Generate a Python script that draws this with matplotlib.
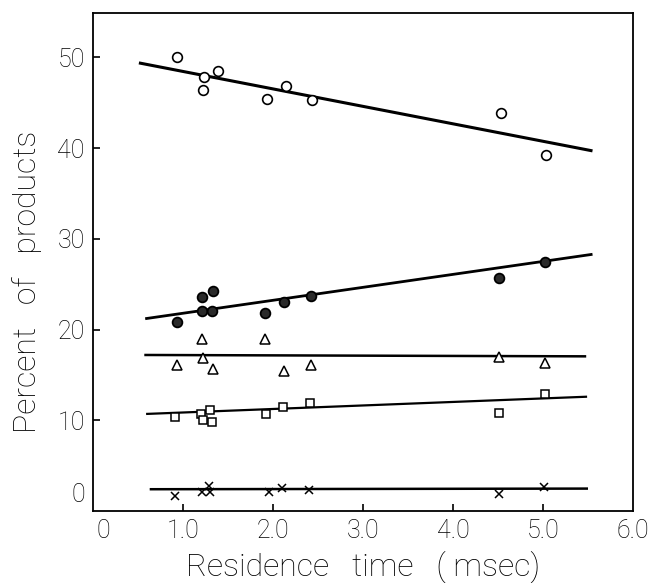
import matplotlib
matplotlib.use("Agg")
import matplotlib.pyplot as plt
import matplotlib.transforms as mtransforms

# Open circles
oc_x = [0.93, 1.23, 1.22, 1.39, 1.93, 2.14, 2.43, 4.53, 5.03]
oc_y = [50.1, 47.8, 46.4, 48.5, 45.4, 46.9, 45.3, 43.9, 39.3]
oc_line_x = [0.51, 5.55]
oc_line_y = [49.4, 39.7]

# Filled circles
fc_x = [0.93, 1.21, 1.21, 1.33, 1.32, 1.91, 2.12, 2.42, 4.51, 5.02]
fc_y = [20.8, 23.6, 22.1, 24.2, 22.1, 21.8, 23.0, 23.7, 25.7, 27.4]
fc_line_x = [0.58, 5.55]
fc_line_y = [21.2, 28.3]

# Triangles
tr_x = [0.93, 1.21, 1.22, 1.33, 1.91, 2.12, 2.42, 4.51, 5.02]
tr_y = [16.1, 19.0, 16.9, 15.6, 19.0, 15.4, 16.1, 17.0, 16.3]
tr_line_x = [0.57, 5.48]
tr_line_y = [17.2, 17.05]

# Squares
sq_x = [0.91, 1.20, 1.22, 1.30, 1.32, 1.92, 2.11, 2.41, 4.51, 5.02]
sq_y = [10.4, 10.7, 10.0, 11.1, 9.8, 10.7, 11.5, 11.95, 10.85, 12.9]
sq_line_x = [0.59, 5.49]
sq_line_y = [10.7, 12.6]

# Crosses
cr_x = [0.91, 1.21, 1.29, 1.30, 1.96, 2.10, 2.40, 4.51, 5.01]
cr_y = [1.7, 2.1, 2.8, 2.1, 2.07, 2.55, 2.35, 1.9, 2.6]
cr_line_x = [0.63, 5.50]
cr_line_y = [2.4, 2.47]

x_ticks = [0, 1, 2, 3, 4, 5, 6]
x_tick_labels = ["0", "1.0", "2.0", "3.0", "4.0", "5.0", "6.0"]
y_ticks = [0, 10, 20, 30, 40, 50]
y_tick_labels = ["0", "10", "20", "30", "40", "50"]

plt.rcParams['font.family'] = ['Roboto', 'DejaVu Sans']
plt.rcParams['font.weight'] = 'light'
plt.rcParams['axes.labelweight'] = 'light'

fig = plt.figure(figsize=(6.53, 5.83), dpi=100)
ax = fig.add_axes([93/653, 72/583, 540/653, 498/583])

ax.plot(oc_line_x, oc_line_y, color='black', lw=2.2, solid_capstyle='butt')
ax.plot(fc_line_x, fc_line_y, color='black', lw=2.0, solid_capstyle='butt')
ax.plot(tr_line_x, tr_line_y, color='black', lw=1.8, solid_capstyle='butt')
ax.plot(sq_line_x, sq_line_y, color='black', lw=1.6, solid_capstyle='butt')
ax.plot(cr_line_x, cr_line_y, color='black', lw=1.8, solid_capstyle='butt')

ax.plot(oc_x, oc_y, 'o', ms=7, mfc='white', mec='black', mew=1.2, ls='none')
ax.plot(fc_x, fc_y, 'o', ms=7, mfc='#2a2a2a', mec='black', mew=1.3, ls='none')
ax.plot(tr_x, tr_y, '^', ms=7, mfc='white', mec='black', mew=1.1, ls='none')
ax.plot(sq_x, sq_y, 's', ms=5.5, mfc='white', mec='black', mew=1.1, ls='none')
ax.plot(cr_x, cr_y, 'x', ms=6, mec='black', mew=1.1, ls='none')

ax.set_xlim(0, 6.0)
ax.set_ylim(0, 54.9)
ax.set_xticks(x_ticks)
ax.set_xticklabels(x_tick_labels)
ax.set_yticks(y_ticks)
ax.set_yticklabels(y_tick_labels)
ax.tick_params(direction='in', length=5, width=1.2, labelsize=18, pad=6, colors='black')
for s in ax.spines.values():
    s.set_linewidth(1.3)

xt = ax.xaxis.get_major_ticks()
xt[0].tick1line.set_visible(False)
xt[-1].tick1line.set_visible(False)
yt = ax.yaxis.get_major_ticks()
yt[0].tick1line.set_visible(False)
lab0y = yt[0].label1
lab0y.set_transform(lab0y.get_transform() + mtransforms.ScaledTranslation(0, 18/100, fig.dpi_scale_trans))
lab0x = xt[0].label1
lab0x.set_transform(lab0x.get_transform() + mtransforms.ScaledTranslation(10/100, 0, fig.dpi_scale_trans))

ax.set_xlabel("Residence   time   ( msec)", fontsize=23, fontweight='light', labelpad=5)
ax.set_ylabel("Percent   of   products", fontsize=23, fontweight='light')
ax.yaxis.set_label_coords(-0.095, 0.46)

fig.savefig("out.png", dpi=100)
